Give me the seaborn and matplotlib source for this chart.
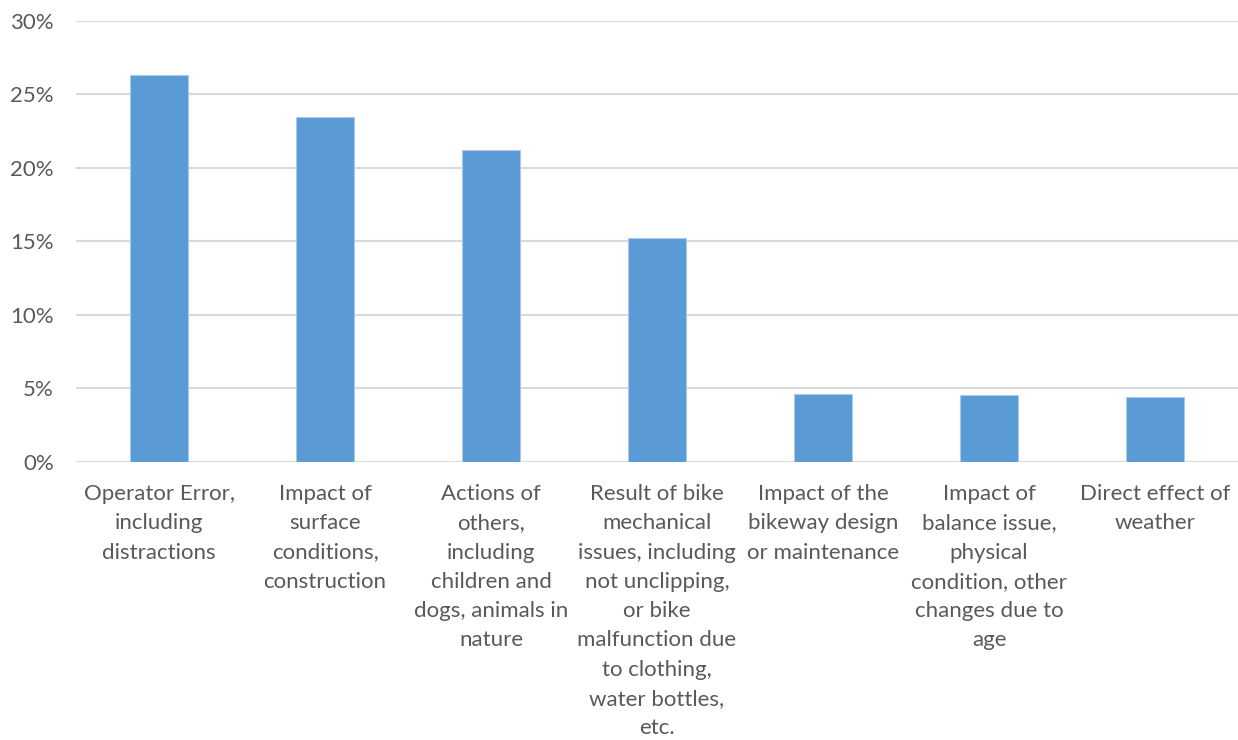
import matplotlib
matplotlib.use("Agg")
import matplotlib.pyplot as plt
import seaborn as sns
import pandas as pd
from matplotlib.ticker import PercentFormatter

# crash causes (labels wrapped as in the original chart)
causes = [
    "Operator Error,\nincluding\ndistractions",
    "Impact of\nsurface\nconditions,\nconstruction",
    "Actions of\nothers,\nincluding\nchildren and\ndogs, animals in\nnature",
    "Result of bike\nmechanical\nissues, including\nnot unclipping,\nor bike\nmalfunction due\nto clothing,\nwater bottles,\netc.",
    "Impact of the\nbikeway design\nor maintenance",
    "Impact of\nbalance issue,\nphysical\ncondition, other\nchanges due to\nage",
    "Direct effect of\nweather",
]
shares = [0.263, 0.235, 0.2125, 0.1526, 0.0463, 0.0452, 0.0439]

df = pd.DataFrame({"Cause": causes, "Share": shares})

sns.set_style("white")
plt.rcParams["font.family"] = ["Lato", "DejaVu Sans"]

fig = plt.figure(figsize=(12.38, 7.4), dpi=100)
ax = fig.add_axes([0.0614, 0.376, 0.9386, 0.5956])

sns.barplot(data=df, x="Cause", y="Share", color="#5b9bd5", width=0.35,
            edgecolor="#a9c9ec", linewidth=0.8, saturation=1, ax=ax, zorder=3)

ax.set_ylim(0, 0.30)
ax.set_xlim(-0.5, len(causes) - 0.5)
ax.set_yticks([0, 0.05, 0.10, 0.15, 0.20, 0.25, 0.30])
ax.yaxis.set_major_formatter(PercentFormatter(1.0, decimals=0))
ax.grid(axis="y", color="#d9d9d9", linewidth=1.5, zorder=0)
ax.set_axisbelow(True)
for s in ax.spines.values():
    s.set_visible(False)

ax.set_xlabel("")
ax.set_ylabel("")
ax.tick_params(axis="y", length=0, pad=16, labelsize=16, labelcolor="#595959")
ax.tick_params(axis="x", length=0, pad=16, labelsize=16, labelcolor="#595959")
for lbl in ax.get_xticklabels():
    lbl.set_linespacing(1.58)
    lbl.set_verticalalignment("top")

fig.savefig("out.png", dpi=100)
